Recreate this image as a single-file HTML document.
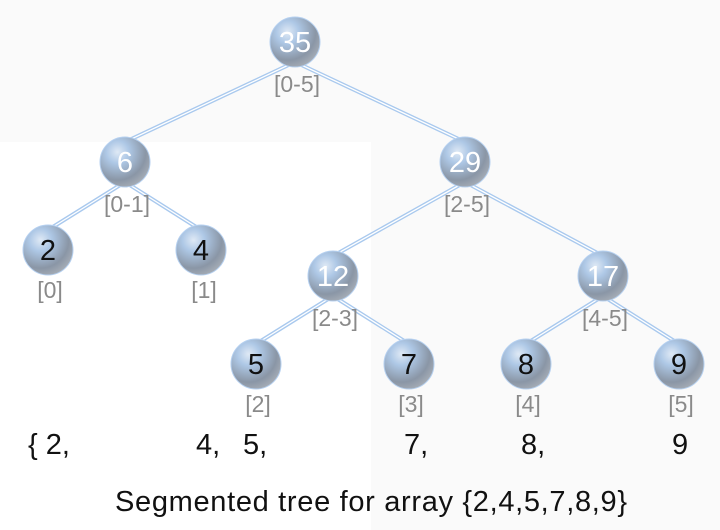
<!DOCTYPE html>
<html><head><style>body{margin:0}svg{display:block}</style></head><body>
<svg width="720" height="530" xmlns="http://www.w3.org/2000/svg" font-family="Liberation Sans, sans-serif">
<defs>
<radialGradient id="g" cx="0.35" cy="0.3" r="0.75">
<stop offset="0" stop-color="#dfe9f5"/>
<stop offset="0.3" stop-color="#aec8e6"/>
<stop offset="0.75" stop-color="#8a96a6"/>
<stop offset="1" stop-color="#a6adb6"/>
</radialGradient>
</defs>
<rect width="720" height="530" fill="#fafafa"/>
<rect x="0" y="142" width="371" height="388" fill="#ffffff"/>
<g fill="none">
<g stroke="#a9c9ee" stroke-width="4">
<path d="M295 62L465 142M295 62L125 142M125 182L48 230M125 182L201 230M465 182L333 256M465 182L603 256M333 296L256 344M333 296L409 344M603 296L526 344M603 296L679 344"/>
</g>
<g stroke="#ffffff" stroke-width="1.3">
<path d="M295 62L465 142M295 62L125 142M125 182L48 230M125 182L201 230M465 182L333 256M465 182L603 256M333 296L256 344M333 296L409 344M603 296L526 344M603 296L679 344"/>
</g>
</g>
<g fill="url(#g)" stroke="#b5d0f0" stroke-width="1">
<circle cx="295" cy="42" r="25"/><circle cx="125" cy="162" r="25"/><circle cx="465" cy="162" r="25"/>
<circle cx="48" cy="250" r="25"/><circle cx="201" cy="250" r="25"/><circle cx="333" cy="276" r="25"/>
<circle cx="603" cy="276" r="25"/><circle cx="256" cy="364" r="25"/><circle cx="409" cy="364" r="25"/>
<circle cx="526" cy="364" r="25"/><circle cx="679" cy="364" r="25"/>
</g>
<g font-size="29" text-anchor="middle" fill="#fff">
<text x="295" y="52">35</text><text x="125" y="172">6</text><text x="465" y="172">29</text>
<text x="333" y="286">12</text><text x="603" y="286">17</text>
</g>
<g font-size="29" text-anchor="middle" fill="#111">
<text x="48" y="260">2</text><text x="201" y="260">4</text><text x="256" y="374">5</text>
<text x="409" y="374">7</text><text x="526" y="374">8</text><text x="679" y="374">9</text>
</g>
<g font-size="23" text-anchor="middle" fill="#8a8a8a">
<text x="297" y="92">[0-5]</text><text x="127" y="212">[0-1]</text><text x="467" y="212">[2-5]</text>
<text x="50" y="298">[0]</text><text x="204" y="298">[1]</text><text x="335" y="326">[2-3]</text>
<text x="605" y="326">[4-5]</text><text x="258" y="412">[2]</text><text x="411" y="412">[3]</text>
<text x="528" y="412">[4]</text><text x="681" y="412">[5]</text>
</g>
<g font-size="29" fill="#111">
<text x="28" y="454">{ 2,</text><text x="196" y="454">4,</text><text x="243" y="454">5,</text>
<text x="404" y="454">7,</text><text x="521" y="454">8,</text><text x="672" y="454">9</text>
<text x="371" y="511" text-anchor="middle" textLength="512">Segmented tree for array {2,4,5,7,8,9}</text>
</g>
</svg>
</body></html>
